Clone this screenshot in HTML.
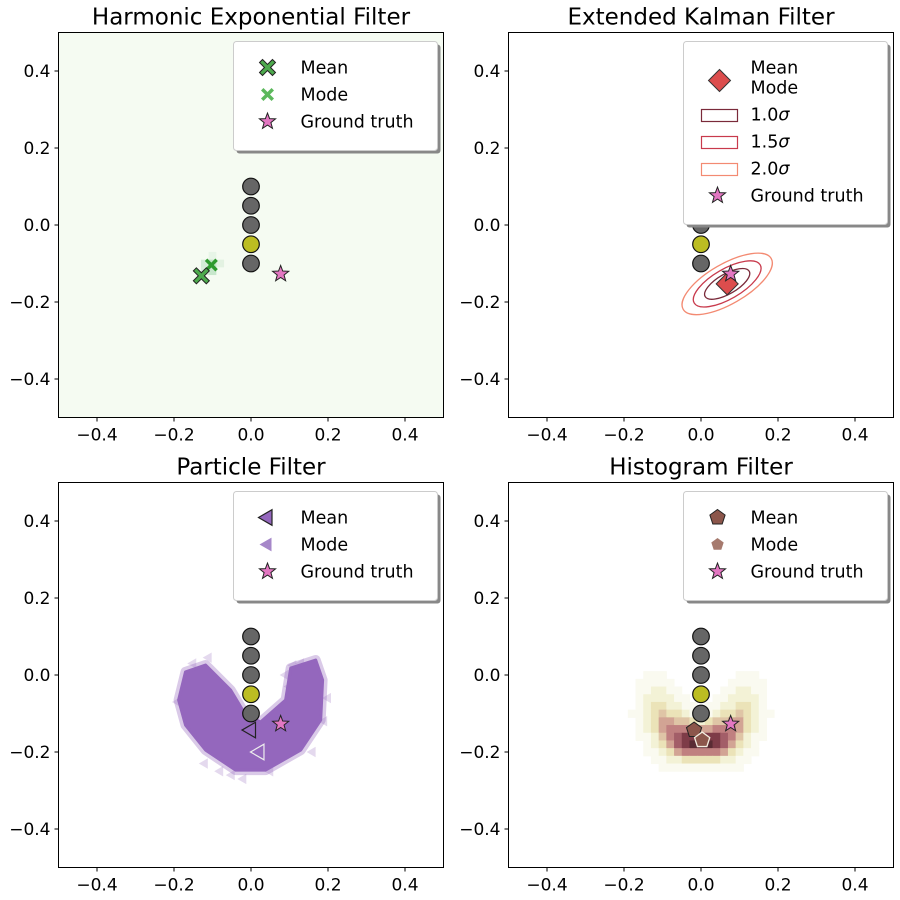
<!DOCTYPE html>
<html><head><meta charset="utf-8">
<style>
html,body{margin:0;padding:0;background:#fff;}
svg{display:block;font-family:"DejaVu Sans","Liberation Sans",sans-serif;}
</style></head>
<body>
<svg id="fig" width="900" height="900" viewBox="0 0 900 900" xmlns="http://www.w3.org/2000/svg"></svg>
<script>
// ---- data ----
const xTicks = [-0.4, -0.2, 0.0, 0.2, 0.4];
const yTicks = [-0.4, -0.2, 0.0, 0.2, 0.4];
const landmarkX = [0, 0, 0, 0, 0];
const landmarkY = [0.10, 0.05, 0.00, -0.05, -0.10];
const landmarkActive = [false, false, false, true, false];
const groundTruth = [0.077, -0.127];
const hefMean = [-0.129, -0.132];
const hefMode = [-0.103, -0.104];
const hefCellsX = [-0.12, -0.10, -0.10, -0.12, -0.08, -0.10];
const hefCellsY = [-0.10, -0.10, -0.12, -0.12, -0.10, -0.08];
const hefCellsV = [0.35, 0.6, 0.5, 0.3, 0.2, 0.15];
const ekfMean = [0.068, -0.153];
const ekfSigmas = [1.0, 1.5, 2.0];
const ekfSemiMajor = 0.066;
const ekfSemiMinor = 0.026;
const ekfAngleDeg = -30;
const pfMean = [0.0, -0.143];
const pfMode = [0.022, -0.2];
const pfCloudX = [-0.188,-0.170,-0.118,-0.053,-0.014,0.025,0.090,0.103,0.168,0.186,0.181,0.129,0.038,-0.040,-0.118,-0.170];
const pfCloudY = [-0.065,0.008,0.026,-0.039,-0.104,-0.122,-0.065,0.018,0.039,-0.013,-0.117,-0.195,-0.247,-0.247,-0.195,-0.130];
const pfOutX = [-0.15,-0.13,-0.19,0.11,0.13,0.2,0.19,-0.08,-0.05,-0.12,0.16,0.05,-0.02,0.09,-0.11,0.15,0.1];
const pfOutY = [0.03,0.015,-0.07,0.025,0.03,-0.06,-0.12,-0.25,-0.26,-0.23,-0.2,-0.25,-0.27,0.0,0.045,0.02,-0.03];
const histMean = [-0.018, -0.143];
const histMode = [0.003, -0.169];
const histX0 = -0.18, histY0 = 0.0, histStep = 0.02;
const histGrid = [
[0,0,1,1,1,0,0,0,0,0,0,0,0,0,1,1,1,0,0],
[0,1,1,1,1,1,0,0,0,0,0,0,0,1,1,1,1,1,0],
[0,1,1,2,2,1,1,0,0,0,0,0,1,1,2,2,1,1,0],
[0,1,2,2,2,2,1,1,0,0,0,1,1,2,2,2,2,1,0],
[0,1,2,3,3,2,2,1,1,0,1,1,2,2,3,3,2,1,0],
[1,1,2,3,4,3,3,2,1,1,1,2,3,3,4,3,2,1,1],
[0,1,2,3,5,5,4,4,3,2,3,4,4,5,5,3,2,1,0],
[0,1,2,3,5,6,6,6,5,5,5,6,6,6,5,3,2,1,0],
[0,1,1,2,4,6,7,8,8,8,8,8,7,6,4,2,1,1,0],
[0,0,1,2,3,5,7,8,9,9,9,8,7,5,3,2,1,0,0],
[0,0,1,1,2,3,5,6,6,6,6,6,5,3,2,1,1,0,0],
[0,0,0,1,1,2,2,3,3,3,3,3,2,2,1,1,0,0,0],
[0,0,0,0,1,1,1,1,1,1,1,1,1,1,1,0,0,0,0]];
const histColors = ['none','#fafaf0','#f3f2d6','#ebe3b8','#dfc5a6','#d2a494','#c08080','#a35e68','#7e3c48','#5a2c34'];

// ---- drawing ----
const NS = 'http://www.w3.org/2000/svg';
const svg = document.getElementById('fig');
const SIZE = 385;
function mk(tag, attrs, parent) {
  const e = document.createElementNS(NS, tag);
  for (const k in attrs) e.setAttribute(k, attrs[k]);
  (parent || svg).appendChild(e);
  return e;
}
function axes(x0, y0) {
  return { sx: v => x0 + (v + 0.5) * SIZE, sy: v => y0 + (0.5 - v) * SIZE, x0, y0 };
}
function starPath(cx, cy, r) {
  let d = '';
  for (let i = 0; i < 10; i++) {
    const rr = i % 2 === 0 ? r : r * 0.42;
    const a = -Math.PI / 2 + i * Math.PI / 5;
    d += (i ? 'L' : 'M') + (cx + rr * Math.cos(a)).toFixed(2) + ',' + (cy + rr * Math.sin(a)).toFixed(2);
  }
  return d + 'Z';
}
function xPath(cx, cy, r) {
  const w = r * 0.38;
  const pts = [[-r + w, -r], [0, -w], [r - w, -r], [r, -r + w], [w, 0], [r, r - w], [r - w, r], [0, w], [-r + w, r], [-r, r - w], [-w, 0], [-r, -r + w]];
  return 'M' + pts.map(p => (cx + p[0]).toFixed(2) + ',' + (cy + p[1]).toFixed(2)).join('L') + 'Z';
}
function polyPath(cx, cy, r, n, rot) {
  let d = '';
  for (let i = 0; i < n; i++) {
    const a = rot + i * 2 * Math.PI / n;
    d += (i ? 'L' : 'M') + (cx + r * Math.cos(a)).toFixed(2) + ',' + (cy + r * Math.sin(a)).toFixed(2);
  }
  return d + 'Z';
}
function triLeft(cx, cy, r) { return polyPath(cx, cy, r, 3, Math.PI); }

const panels = [
  { x0: 58.5, y0: 32.5, title: 'Harmonic Exponential Filter', key: 'hef' },
  { x0: 508.5, y0: 32.5, title: 'Extended Kalman Filter', key: 'ekf' },
  { x0: 58.5, y0: 482.5, title: 'Particle Filter', key: 'pf' },
  { x0: 508.5, y0: 482.5, title: 'Histogram Filter', key: 'hist' }
];
const FT = 17, FL = 17.5, FTI = 23;

panels.forEach(p => {
  const A = axes(p.x0, p.y0);
  const g = mk('g', {});
  
  
  const clipId = 'clip-' + p.key;
  const cp = mk('clipPath', { id: clipId }, g);
  mk('rect', { x: p.x0, y: p.y0, width: SIZE, height: SIZE }, cp);
  const plot = mk('g', { 'clip-path': 'url(#' + clipId + ')' }, g);
  
  

  if (p.key === 'hef') {
    const bg = mk('rect', { x: p.x0, y: p.y0, width: SIZE, height: SIZE, fill: '#f5fbf2' }, plot);
    
    
    for (let i = 0; i < hefCellsX.length; i++) {
      const c = mk('rect', { x: A.sx(hefCellsX[i] - 0.01), y: A.sy(hefCellsY[i] + 0.01), width: 0.02 * SIZE, height: 0.02 * SIZE, fill: '#41ab5d', 'fill-opacity': hefCellsV[i] * 0.5 }, plot);
      
      
    }
  }
  if (p.key === 'hist') {
    for (let r = 0; r < histGrid.length; r++) {
      for (let c = 0; c < histGrid[r].length; c++) {
        const v = histGrid[r][c];
        if (!v) continue;
        const cx = histX0 + c * histStep, cy = histY0 - r * histStep;
        const cell = mk('rect', { x: A.sx(cx - histStep / 2), y: A.sy(cy + histStep / 2), width: histStep * SIZE + 0.5, height: histStep * SIZE + 0.5, fill: histColors[v] }, plot);
        
        
      }
    }
  }
  if (p.key === 'pf') {
    for (let i = 0; i < pfOutX.length; i++) {
      const t = mk('path', { d: triLeft(A.sx(pfOutX[i]), A.sy(pfOutY[i]), 6), fill: '#9467bd', 'fill-opacity': 0.25 }, plot);
      
      
    }
    let d = '';
    for (let i = 0; i < pfCloudX.length; i++) d += (i ? 'L' : 'M') + A.sx(pfCloudX[i]).toFixed(1) + ',' + A.sy(pfCloudY[i]).toFixed(1);
    const halo = mk('path', { d: d + 'Z', fill: 'none', stroke: '#9467bd', 'stroke-opacity': 0.35, 'stroke-width': 10, 'stroke-linejoin': 'round' }, plot);
    
    
    const cl = mk('path', { d: d + 'Z', fill: '#9467bd', stroke: '#9467bd', 'stroke-width': 3, 'stroke-linejoin': 'round' }, plot);
    
    
  }

  for (let i = 0; i < landmarkX.length; i++) {
    const lm = mk('circle', { cx: A.sx(landmarkX[i]), cy: A.sy(landmarkY[i]), r: 8.3, fill: landmarkActive[i] ? '#bcbd22' : '#666666', stroke: '#111', 'stroke-width': 1.2 }, plot);
    
    
  }

  if (p.key === 'ekf') {
    const ecol = ['#7a2a3a', '#c83a4c', '#f38a72'];
    for (let i = 0; i < ekfSigmas.length; i++) {
      const s = ekfSigmas[i];
      const el = mk('ellipse', { cx: A.sx(ekfMean[0]), cy: A.sy(ekfMean[1]), rx: ekfSemiMajor * s * SIZE, ry: ekfSemiMinor * s * SIZE, fill: 'none', stroke: ecol[i], 'stroke-width': 1.3, transform: 'rotate(' + ekfAngleDeg + ' ' + A.sx(ekfMean[0]) + ' ' + A.sy(ekfMean[1]) + ')' }, plot);
      
      
    }
    const dm = mk('path', { d: polyPath(A.sx(ekfMean[0]), A.sy(ekfMean[1]), 11, 4, 0), fill: '#dc4d4d', stroke: '#333', 'stroke-width': 1 }, plot);
    
    
  }
  if (p.key === 'hef') {
    const mo = mk('path', { d: xPath(A.sx(hefMode[0]), A.sy(hefMode[1]), 6.5), fill: '#2e9a2e' }, plot);
    
    
    const me = mk('path', { d: xPath(A.sx(hefMean[0]), A.sy(hefMean[1]), 8), fill: '#4daa4d', stroke: '#222', 'stroke-width': 1 }, plot);
    
    
  }
  if (p.key === 'pf') {
    const me = mk('path', { d: triLeft(A.sx(pfMean[0]), A.sy(pfMean[1]), 9), fill: '#9467bd', stroke: '#222', 'stroke-width': 1.2 }, plot);
    
    
    const mo = mk('path', { d: triLeft(A.sx(pfMode[0]), A.sy(pfMode[1]), 9), fill: '#9467bd', stroke: '#eee', 'stroke-width': 1.2 }, plot);
    
    
  }
  if (p.key === 'hist') {
    const me = mk('path', { d: polyPath(A.sx(histMean[0]), A.sy(histMean[1]), 8, 5, -Math.PI / 2), fill: '#8c564b', stroke: '#222', 'stroke-width': 1 }, plot);
    
    
    const mo = mk('path', { d: polyPath(A.sx(histMode[0]), A.sy(histMode[1]), 8, 5, -Math.PI / 2), fill: '#8c564b', stroke: '#f4eee0', 'stroke-width': 1.3 }, plot);
    
    
  }
  const gt = mk('path', { d: starPath(A.sx(groundTruth[0]), A.sy(groundTruth[1]), 8.5), fill: '#e377c2', stroke: '#222', 'stroke-width': 1 }, plot);
  
  

  const fr = mk('rect', { x: p.x0, y: p.y0, width: SIZE, height: SIZE, fill: 'none', stroke: '#000', 'stroke-width': 1 }, g);
  
  

  xTicks.forEach(t => {
    const x = A.sx(t);
    const tk = mk('line', { x1: x, x2: x, y1: p.y0 + SIZE, y2: p.y0 + SIZE + 4, stroke: '#000' }, g);
    
    
    const tl = mk('text', { x: x, y: p.y0 + SIZE + 23, 'text-anchor': 'middle', 'font-size': FT }, g);
    tl.textContent = (t < 0 ? '\u2212' : '') + Math.abs(t).toFixed(1);
    
    
  });
  yTicks.forEach(t => {
    const y = A.sy(t);
    const tk = mk('line', { x1: p.x0 - 4, x2: p.x0, y1: y, y2: y, stroke: '#000' }, g);
    
    
    const tl = mk('text', { x: p.x0 - 8, y: y + 6, 'text-anchor': 'end', 'font-size': FT }, g);
    tl.textContent = (t < 0 ? '\u2212' : '') + Math.abs(t).toFixed(1);
    
    
  });
  const ti = mk('text', { x: p.x0 + SIZE / 2, y: p.y0 - 8, 'text-anchor': 'middle', 'font-size': FTI }, g);
  ti.textContent = p.title;
  
  

  const lx = p.x0 + 175, ly = p.y0 + 9, lw = 204;
  const lh = p.key === 'ekf' ? 183 : 109;
  const lg = mk('g', {}, g);
  
  
  mk('rect', { x: lx + 3, y: ly + 3, width: lw, height: lh, rx: 3, fill: '#888' }, lg);
  mk('rect', { x: lx, y: ly, width: lw, height: lh, rx: 3, fill: '#fff', stroke: '#ccc' }, lg);
  const mxp = lx + 34, tx = lx + 67;
  function entry(y, label, markerFn) {
    const e = mk('g', {}, lg);
    
    
    markerFn(e, mxp, y);
    const t = mk('text', { x: tx, y: y + 6, 'font-size': FL }, e);
    t.textContent = label;
  }
  const starM = (e, x, y) => mk('path', { d: starPath(x, y, 8.5), fill: '#e377c2', stroke: '#222', 'stroke-width': 1 }, e);
  if (p.key === 'hef') {
    entry(ly + 26, 'Mean', (e, x, y) => mk('path', { d: xPath(x, y, 8), fill: '#4daa4d', stroke: '#222', 'stroke-width': 1 }, e));
    entry(ly + 53, 'Mode', (e, x, y) => mk('path', { d: xPath(x, y, 6.5), fill: '#5cb85c' }, e));
    entry(ly + 80, 'Ground truth', starM);
  } else if (p.key === 'pf') {
    entry(ly + 26, 'Mean', (e, x, y) => mk('path', { d: triLeft(x, y, 9), fill: '#9467bd', stroke: '#222', 'stroke-width': 1.2 }, e));
    entry(ly + 53, 'Mode', (e, x, y) => mk('path', { d: triLeft(x, y, 8), fill: '#a687c9' }, e));
    entry(ly + 80, 'Ground truth', starM);
  } else if (p.key === 'hist') {
    entry(ly + 26, 'Mean', (e, x, y) => mk('path', { d: polyPath(x, y, 8, 5, -Math.PI / 2), fill: '#8c564b', stroke: '#222', 'stroke-width': 1 }, e));
    entry(ly + 53, 'Mode', (e, x, y) => mk('path', { d: polyPath(x, y, 6.5, 5, -Math.PI / 2), fill: '#a67a6e' }, e));
    entry(ly + 80, 'Ground truth', starM);
  } else {
    const e0 = mk('g', {}, lg);
    
    
    mk('path', { d: polyPath(mxp + 2, ly + 39, 11, 4, 0), fill: '#dc4d4d', stroke: '#333', 'stroke-width': 1 }, e0);
    const t1 = mk('text', { x: tx, y: ly + 32, 'font-size': FL }, e0); t1.textContent = 'Mean';
    const t2 = mk('text', { x: tx, y: ly + 52, 'font-size': FL }, e0); t2.textContent = 'Mode';
    const ecol = ['#7a2a3a', '#c83a4c', '#f38a72'];
    const lbl = ['1.0', '1.5', '2.0'];
    for (let i = 0; i < 3; i++) {
      const yy = ly + 73 + i * 27;
      entry(yy, '', (e, x, y) => mk('rect', { x: lx + 18, y: y - 5, width: 36, height: 12, fill: 'none', stroke: ecol[i], 'stroke-width': 1.2 }, e));
      const t = mk('text', { x: tx, y: yy + 6, 'font-size': FL }, lg);
      t.textContent = lbl[i];
      const ts = mk('tspan', { 'font-style': 'italic' }, t);
      ts.textContent = '\u03c3';
    }
    entry(ly + 154, 'Ground truth', starM);
  }
});
</script>
</body></html>
